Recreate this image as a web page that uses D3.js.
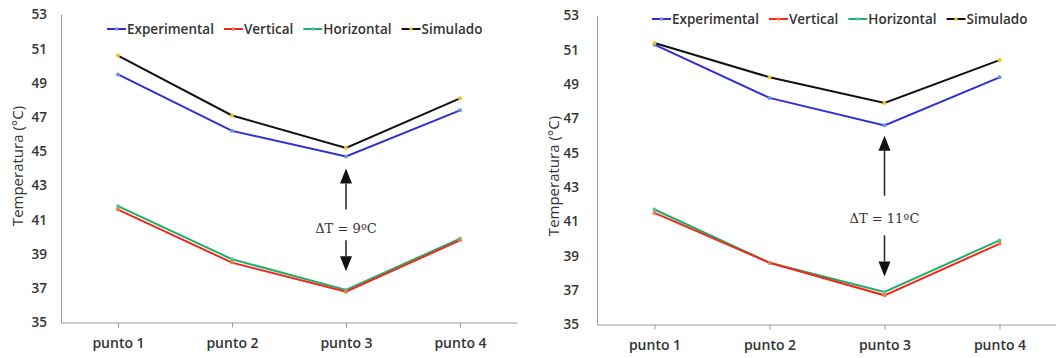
<!DOCTYPE html>
<html>
<head>
<meta charset="utf-8">
<script src="https://cdn.jsdelivr.net/npm/d3@7"></script>
<style>
  body { margin: 0; background: #fff; }
  text { font-family: "Open Sans", sans-serif; fill: #333; }
  .axis path, .axis line { stroke: #999; }
</style>
</head>
<body>
<svg id="chart"></svg>
<script>
var width = 1056;
var height = 358;

var categories = ["punto 1", "punto 2", "punto 3", "punto 4"];
var yTicks = [35, 37, 39, 41, 43, 45, 47, 49, 51, 53];
var seriesNames = ["Experimental", "Vertical", "Horizontal", "Simulado"];
var seriesColors = ["#2f2fd6", "#f0281c", "#1fae6a", "#111111"];
var markerColors = ["#6f8fe8", "#f07a50", "#60c090", "#f2c21a"];

// left chart
var expA = [49.5, 46.2, 44.7, 47.4];
var vertA = [41.6, 38.5, 36.8, 39.8];
var horA = [41.8, 38.7, 36.9, 39.9];
var simA = [50.6, 47.1, 45.2, 48.1];

// right chart
var expB = [51.3, 48.2, 46.6, 49.4];
var vertB = [41.5, 38.6, 36.7, 39.7];
var horB = [41.7, 38.6, 36.9, 39.9];
var simB = [51.4, 49.4, 47.9, 50.4];

var charts = [
  { x0: 61, x1: 517, yTop: 14.5, yBot: 322.5, legendX: 107, legendY: 29, labelX: 17, labelY: 166, tickPad: 14,
    series: [expA, vertA, horA, simA],
    delta: { label: "ΔT = 9ºC", top: 44.0, shaftTop: 41.6, text: 40.5, shaftBot: 39.8, bottom: 38.0 } },
  { x0: 597, x1: 1057, yTop: 15.5, yBot: 324.5, legendX: 652, legendY: 19, labelX: 553, labelY: 176, tickPad: 18,
    series: [expB, vertB, horB, simB],
    delta: { label: "ΔT = 11ºC", top: 46.0, shaftTop: 42.5, text: 41.2, shaftBot: 40.2, bottom: 37.8 } }
];

var svg = d3.select("#chart")
    .attr("width", width)
    .attr("height", height);

charts.forEach(function (c) {
  var xScale = d3.scalePoint()
      .domain(categories)
      .range([c.x0, c.x1])
      .padding(0.5);

  var yScale = d3.scaleLinear()
      .domain([35, 53])
      .range([c.yBot, c.yTop]);

  var g = svg.append("g");

  // x axis
  var xAxis = d3.axisBottom(xScale)
      .tickSize(5)
      .tickSizeOuter(0)
      .tickPadding(11);

  g.append("g")
      .attr("class", "axis")
      .attr("transform", "translate(0," + c.yBot + ")")
      .call(xAxis)
      .call(s => s.selectAll("text")
          .style("font-size", "14px")
          .style("font-weight", 600)
          .attr("fill", "#333"));

  // y axis
  var yAxis = d3.axisLeft(yScale)
      .tickValues(yTicks)
      .tickSize(0)
      .tickPadding(c.tickPad);

  g.append("g")
      .attr("class", "axis")
      .attr("transform", "translate(" + c.x0 + ",0)")
      .call(yAxis)
      .call(s => s.selectAll("text")
          .style("font-size", "13.5px")
          .style("font-weight", 600)
          .attr("fill", "#333"));

  g.append("text")
      .attr("transform", "translate(" + c.labelX + "," + c.labelY + ") rotate(-90)")
      .attr("text-anchor", "middle")
      .attr("dominant-baseline", "central")
      .style("font-size", "15px")
      .text("Temperatura (°C)");

  // lines, drawn so black/blue on top like the original
  var line = d3.line()
      .x((d, i) => xScale(categories[i]))
      .y(d => yScale(d));

  [2, 1, 0, 3].forEach(function (k) {
    g.append("path")
        .datum(c.series[k])
        .attr("fill", "none")
        .attr("stroke", seriesColors[k])
        .attr("stroke-width", 2)
        .attr("d", line);

    g.selectAll(null)
        .data(c.series[k])
        .enter()
        .append("circle")
          .attr("cx", (d, i) => xScale(categories[i]))
          .attr("cy", d => yScale(d))
          .attr("r", 2)
          .attr("fill", markerColors[k]);
  });

  // legend
  var lx = c.legendX;
  seriesNames.forEach(function (name, k) {
    var item = g.append("g").attr("transform", "translate(" + lx + "," + c.legendY + ")");
    item.append("line")
        .attr("x1", 0).attr("x2", 19)
        .attr("stroke", seriesColors[k])
        .attr("stroke-width", 2);
    item.append("circle")
        .attr("cx", 9.5).attr("r", 1.8)
        .attr("fill", markerColors[k]);
    var t = item.append("text")
        .attr("x", 20)
        .attr("dominant-baseline", "central")
        .style("font-size", "13.5px")
        .style("font-weight", 600)
        .text(name);
    lx += 20 + t.node().getComputedTextLength() + 10;
  });

  // delta T annotation
  var ax = xScale(categories[2]);
  var d = c.delta;
  var head = 15;
  var yTop = yScale(d.top), yBottom = yScale(d.bottom);

  g.append("line")
      .attr("x1", ax).attr("x2", ax)
      .attr("y1", yTop + head).attr("y2", yScale(d.shaftTop))
      .attr("stroke", "#222").attr("stroke-width", 1.5);
  g.append("path")
      .attr("d", "M" + ax + "," + yTop + "L" + (ax - 6) + "," + (yTop + head) + "L" + (ax + 6) + "," + (yTop + head) + "Z")
      .attr("fill", "#111");

  g.append("line")
      .attr("x1", ax).attr("x2", ax)
      .attr("y1", yScale(d.shaftBot)).attr("y2", yBottom - head)
      .attr("stroke", "#222").attr("stroke-width", 1.5);
  g.append("path")
      .attr("d", "M" + ax + "," + yBottom + "L" + (ax - 6) + "," + (yBottom - head) + "L" + (ax + 6) + "," + (yBottom - head) + "Z")
      .attr("fill", "#111");

  g.append("text")
      .attr("x", ax)
      .attr("y", yScale(d.text))
      .attr("text-anchor", "middle")
      .attr("dominant-baseline", "central")
      .style("font-family", "'DejaVu Serif', serif")
      .style("font-size", "13px")
      .attr("fill", "#111")
      .text(d.label);
});
</script>
</body>
</html>
